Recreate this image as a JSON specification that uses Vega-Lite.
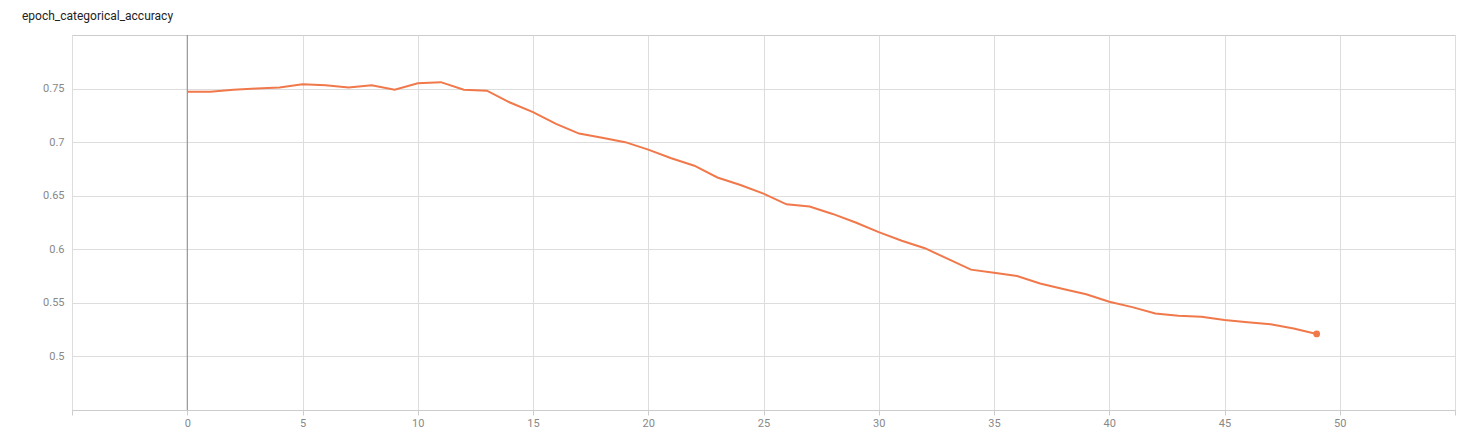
{
  "$schema": "https://vega.github.io/schema/vega-lite/v6.json",
  "autosize": "none",
  "width": 1383,
  "height": 375,
  "padding": {"left": 72, "top": 35, "right": 20, "bottom": 33},
  "background": "white",
  "config": {
    "font": "Roboto",
    "view": {"stroke": "#cccccc"},
    "axis": {"labelColor": "#888888", "labelFontSize": 11, "gridColor": "#dddddd", "domain": false, "title": null}
  },
  "title": {"text": "epoch_categorical_accuracy", "anchor": "start", "frame": "group", "dx": -50, "offset": 12, "fontSize": 12, "fontWeight": "normal", "color": "#222222"},
  "data": {"values": [
    {"step": 0, "value": 0.747}, {"step": 1, "value": 0.747}, {"step": 2, "value": 0.749},
    {"step": 3, "value": 0.750}, {"step": 4, "value": 0.751}, {"step": 5, "value": 0.754},
    {"step": 6, "value": 0.753}, {"step": 7, "value": 0.751}, {"step": 8, "value": 0.753},
    {"step": 9, "value": 0.749}, {"step": 10, "value": 0.755}, {"step": 11, "value": 0.756},
    {"step": 12, "value": 0.749}, {"step": 13, "value": 0.748}, {"step": 14, "value": 0.737},
    {"step": 15, "value": 0.728}, {"step": 16, "value": 0.717}, {"step": 17, "value": 0.708},
    {"step": 18, "value": 0.704}, {"step": 19, "value": 0.700}, {"step": 20, "value": 0.693},
    {"step": 21, "value": 0.685}, {"step": 22, "value": 0.678}, {"step": 23, "value": 0.667},
    {"step": 24, "value": 0.660}, {"step": 25, "value": 0.652}, {"step": 26, "value": 0.642},
    {"step": 27, "value": 0.640}, {"step": 28, "value": 0.633}, {"step": 29, "value": 0.625},
    {"step": 30, "value": 0.616}, {"step": 31, "value": 0.608}, {"step": 32, "value": 0.601},
    {"step": 33, "value": 0.591}, {"step": 34, "value": 0.581}, {"step": 35, "value": 0.578},
    {"step": 36, "value": 0.575}, {"step": 37, "value": 0.568}, {"step": 38, "value": 0.563},
    {"step": 39, "value": 0.558}, {"step": 40, "value": 0.551}, {"step": 41, "value": 0.546},
    {"step": 42, "value": 0.540}, {"step": 43, "value": 0.538}, {"step": 44, "value": 0.537},
    {"step": 45, "value": 0.534}, {"step": 46, "value": 0.532}, {"step": 47, "value": 0.530},
    {"step": 48, "value": 0.526}, {"step": 49, "value": 0.521}
  ]},
  "encoding": {
    "x": {"field": "step", "type": "quantitative",
      "scale": {"domain": [-5, 55], "nice": false},
      "axis": {"values": [-5, 0, 5, 10, 15, 20, 25, 30, 35, 40, 45, 50, 55], "labelExpr": "datum.value < 0 || datum.value > 50 ? '' : datum.label", "domain": true, "domainColor": "#cccccc", "tickColor": "#cccccc", "tickSize": 5}},
    "y": {"field": "value", "type": "quantitative",
      "scale": {"domain": [0.45, 0.8], "nice": false, "zero": false},
      "axis": {"values": [0.5, 0.55, 0.6, 0.65, 0.7, 0.75], "format": ".2~f", "ticks": false, "labelPadding": 8}}
  },
  "layer": [
    {"mark": {"type": "rule", "color": "#888888", "strokeWidth": 1},
     "data": {"values": [{"x": 0}]},
     "encoding": {"x": {"field": "x", "type": "quantitative"}, "y": null}},
    {"mark": {"type": "line", "color": "#f0784a", "strokeWidth": 2}},
    {"mark": {"type": "circle", "color": "#f0784a", "size": 45, "opacity": 1},
     "transform": [{"filter": "datum.step == 49"}]}
  ]
}
